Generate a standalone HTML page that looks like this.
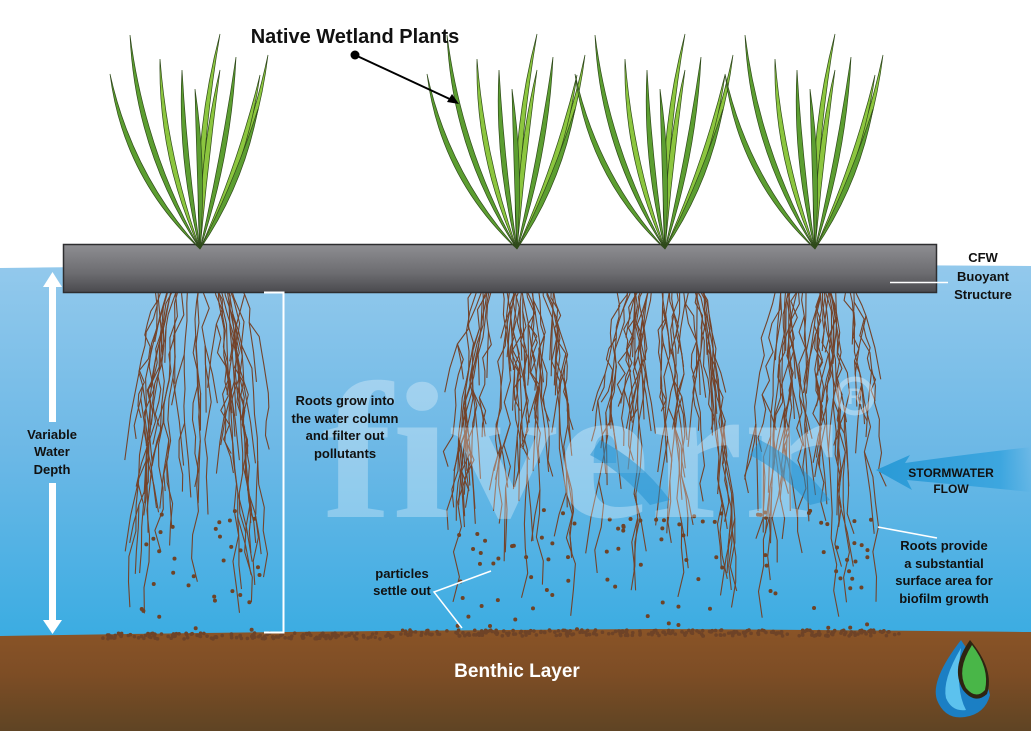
<!DOCTYPE html>
<html><head><meta charset="utf-8"><style>
html,body{margin:0;padding:0;background:#fff;}
svg{display:block;}
text{font-family:"Liberation Sans",Arial,sans-serif;font-weight:bold;}
</style></head><body>
<svg id="s" width="1031" height="743" viewBox="0 0 1031 743" xmlns="http://www.w3.org/2000/svg">
<defs>
<linearGradient id="wat" x1="0" y1="0" x2="0" y2="1">
<stop offset="0" stop-color="#93c9ec"/><stop offset="0.5" stop-color="#6cb8e6"/><stop offset="1" stop-color="#3aace2"/></linearGradient>
<linearGradient id="bar" x1="0" y1="0" x2="0" y2="1">
<stop offset="0" stop-color="#8e8e92"/><stop offset="0.6" stop-color="#6c6c70"/><stop offset="1" stop-color="#4a4a4e"/></linearGradient>
<linearGradient id="soil" x1="0" y1="0" x2="0" y2="1">
<stop offset="0" stop-color="#8a5427"/><stop offset="0.45" stop-color="#7d4d25"/><stop offset="1" stop-color="#5f4424"/></linearGradient>
<linearGradient id="flow" x1="0" y1="0" x2="1" y2="0">
<stop offset="0" stop-color="#2a9ad6"/><stop offset="0.8" stop-color="#3da6df"/><stop offset="1" stop-color="#3da6df" stop-opacity="0"/></linearGradient>
</defs>
<path d="M0,268 Q500,262 1031,266 L1031,640 L0,640 Z" fill="url(#wat)"/>
<path d="M0,636 Q300,631 650,629 Q850,630 1031,632 L1031,731 L0,731 Z" fill="url(#soil)"/>
<g id="roots" stroke="#74432a" stroke-width="1.1" fill="none"></g>
<g id="parts" fill="#6e4327"></g>
<text x="322" y="517" font-size="195" textLength="515" lengthAdjust="spacingAndGlyphs" fill="#ffffff" fill-opacity="0.3" style="font-family:'Liberation Serif',serif">fiverr</text>
<circle cx="855" cy="396" r="17" fill="none" stroke="#fff" stroke-opacity="0.35" stroke-width="5"/>
<text x="855" y="404" text-anchor="middle" font-size="22" fill="#fff" fill-opacity="0.35">R</text>
<path d="M600,440 Q640,460 670,500 L650,505 Q620,470 590,455 Z" fill="#1f90d0" fill-opacity="0.5"/>
<path d="M760,440 Q800,460 830,500 L810,505 Q780,470 750,455 Z" fill="#1f90d0" fill-opacity="0.5"/>
<rect x="63.5" y="244.5" width="873" height="48" fill="url(#bar)" stroke="#2e2e30" stroke-width="1.5"/>
<g id="plants"></g>
<path d="M1031,447 Q960,455 905,463 L910,455 L876,470 L912,490 L907,480 Q960,485 1031,492 Z" fill="url(#flow)"/>
<rect x="49" y="285" width="7" height="137" fill="#fff"/>
<path d="M43,287 L52.5,272 L62,287 Z" fill="#fff"/>
<rect x="49" y="483" width="7" height="138" fill="#fff"/>
<path d="M43,620 L52.5,634 L62,620 Z" fill="#fff"/>
<path d="M264,292.5 H283.5 V632.5 H264" fill="none" stroke="#fff" stroke-width="2"/>
<path d="M890,282.5 H948" stroke="#fff" stroke-width="1.5"/>
<path d="M878,527 L937,538" stroke="#fff" stroke-width="1.5"/>
<path d="M491,571 L434,592 L462,628" fill="none" stroke="#fff" stroke-width="1.5"/>
<circle cx="355" cy="55" r="4.5" fill="#000"/>
<path d="M355,55 L454,101" stroke="#000" stroke-width="2"/>
<path d="M459,104 L447,102 L452,94 Z" fill="#000"/>
<text x="355" y="43" font-size="20" text-anchor="middle" fill="#111">Native Wetland Plants</text>
<g font-size="13" fill="#111" text-anchor="middle">
<text x="52" y="439">Variable</text><text x="52" y="456">Water</text><text x="52" y="474">Depth</text>
<text x="345" y="405">Roots grow into</text><text x="345" y="423">the water column</text><text x="345" y="440">and filter out</text><text x="345" y="458">pollutants</text>
<text x="983" y="262">CFW</text><text x="983" y="281">Buoyant</text><text x="983" y="299">Structure</text>
<text x="951" y="477" font-size="12">STORMWATER</text><text x="951" y="493" font-size="12">FLOW</text>
<text x="944" y="550">Roots provide</text><text x="944" y="568">a substantial</text><text x="944" y="585">surface area for</text><text x="944" y="603">biofilm growth</text>
<text x="402" y="578">particles</text><text x="402" y="595">settle out</text>
</g>
<text x="517" y="677" font-size="19" text-anchor="middle" fill="#fff">Benthic Layer</text>
<path d="M961,640 Q930,680 937,700 Q945,720 965,717 Q985,714 990,695 Q985,675 961,640 Z" fill="#1b7fc4"/>
<path d="M961,648 Q942,680 946,698 Q952,712 966,710 Q955,690 961,648 Z" fill="#5cc2ee"/>
<path d="M970,640 Q950,668 963,690 Q975,705 987,694 Q995,670 970,640 Z" fill="#2e2412"/>
<path d="M972,645 Q956,670 966,688 Q976,700 985,690 Q990,668 972,645 Z" fill="#49b648"/>
</svg>
<script>
(function(){
var NS="http://www.w3.org/2000/svg";
var seed=7;function r(){seed=(seed*16807)%2147483647;return (seed-1)/2147483646;}
var roots=document.getElementById('roots'),parts=document.getElementById('parts'),plants=document.getElementById('plants');
var xs=[200,517,665,815];
xs.forEach(function(bx,pi){
 for(var i=0;i<28;i++){
  var spread=(r()-0.5)*2;
  var x=bx,y=252,pts=[[x,y]];
  var tx=bx+spread*72, end=400+r()*225;
  var n=14;
  for(var k=1;k<=n;k++){
   var t=k/n;
   var yy=252+(end-252)*t;
   var xx=bx+(tx-bx)*Math.pow(t,0.3)+(r()-0.5)*9;
   pts.push([xx,yy]);
  }
  var p=document.createElementNS(NS,'polyline');
  p.setAttribute('points',pts.map(function(a){return a[0].toFixed(1)+','+a[1].toFixed(1)}).join(' '));
  roots.appendChild(p);
  for(var b=0;b<2;b++){
   var s=pts[3+Math.floor(r()*9)];
   var q=document.createElementNS(NS,'polyline');
   var dx=(r()-0.5)*30, dl=30+r()*60;
   q.setAttribute('points',s[0]+','+s[1]+' '+(s[0]+dx*0.6)+','+(s[1]+dl*0.5)+' '+(s[0]+dx)+','+(s[1]+dl));
   roots.appendChild(q);
  }
 }
 for(var j=0;j<32;j++){
  var c=document.createElementNS(NS,'circle');
  c.setAttribute('cx',bx-60+r()*120);c.setAttribute('cy',510+r()*120);c.setAttribute('r',2);
  parts.appendChild(c);
 }
 var tips=[[-70,-214,-12],[20,-215,-6],[-90,-175,-14],[68,-194,8],[36,-192,4],[-40,-190,-8],[-18,-179,-4],[60,-174,6],[58,-140,5],[20,-179,-3],[-5,-160,2]];
 tips.forEach(function(t,li){
  var bxx=bx,by=249,tx=bx+t[0],ty=by+t[1];
  var mx=(bxx+tx)/2,my=(by+ty)/2;
  var dx=tx-bxx,dy=ty-by,L=Math.sqrt(dx*dx+dy*dy);
  var nx=-dy/L,ny=dx/L;
  var bend=t[2]*2.2,w=5;
  var c1x=mx+nx*(bend+w),c1y=my+ny*(bend+w),c2x=mx+nx*(bend-w),c2y=my+ny*(bend-w);
  var p=document.createElementNS(NS,'path');
  p.setAttribute('d','M'+bxx+','+by+' Q'+c1x+','+c1y+' '+tx+','+ty+' Q'+c2x+','+c2y+' '+bxx+','+by+'Z');
  p.setAttribute('fill',li%2?'#8cc63f':'#5c9e31');
  p.setAttribute('stroke','#2f4a1a');p.setAttribute('stroke-width','0.7');
  plants.appendChild(p);
 });
});
for(var i=0;i<420;i++){
 var c=document.createElementNS(NS,'circle');
 var x=100+r()*800;
 c.setAttribute('cx',x);c.setAttribute('cy',630+r()*6+(x<400?3:0));c.setAttribute('r',1.8);
 parts.appendChild(c);
}
})();
</script>
</body></html>
